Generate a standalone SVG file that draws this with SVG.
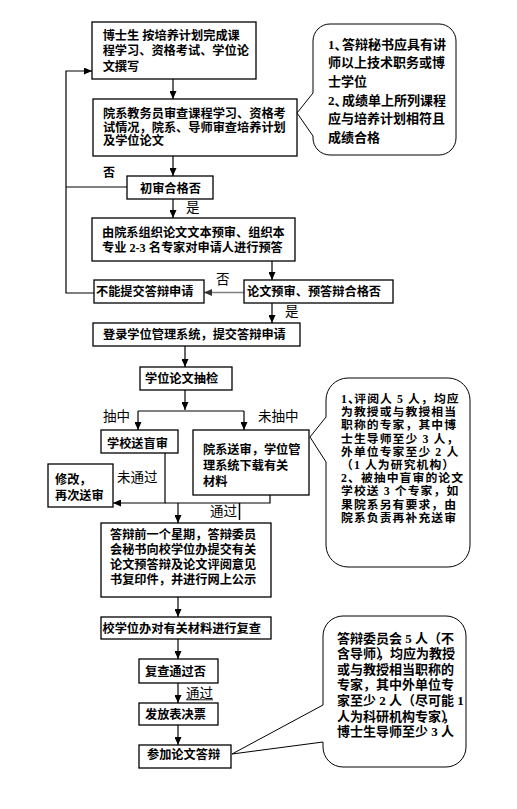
<svg xmlns="http://www.w3.org/2000/svg" width="517" height="809" viewBox="0 0 517 809">
<style>
.box{fill:#fff;stroke:#000;stroke-width:1.3}
.co{fill:#fff;stroke:#000;stroke-width:1}
.t{font-family:"Liberation Serif","Noto Sans CJK SC",serif;font-size:12.2px;font-weight:700;fill:#000}
.c{font-family:"Liberation Serif","Noto Sans CJK SC",serif;font-size:13px;font-weight:700;fill:#000}
.c2{font-family:"Liberation Serif","Noto Sans CJK SC",serif;font-size:11.8px;letter-spacing:1.1px;font-weight:700;fill:#000}
.hp{letter-spacing:-5.5px}
.lbl{font-family:"Noto Sans CJK SC",sans-serif;font-size:13.5px;font-weight:400;fill:#000}
.lb{font-family:"Noto Sans CJK SC",sans-serif;font-size:12px;font-weight:700;fill:#000}
.cn{fill:none;stroke:#000;stroke-width:1.2}
</style>
<defs>
<marker id="arr" viewBox="0 0 10 10" refX="10" refY="5" markerWidth="8" markerHeight="7" markerUnits="userSpaceOnUse" orient="auto" preserveAspectRatio="none"><path d="M0,0 L10,5 L0,10 z" fill="#000"/></marker>
<marker id="arrg" viewBox="0 0 10 10" refX="10" refY="5" markerWidth="8" markerHeight="7" markerUnits="userSpaceOnUse" orient="auto" preserveAspectRatio="none"><path d="M0,0 L10,5 L0,10 z" fill="#333"/></marker>
</defs>
<rect width="517" height="809" fill="#fff"/>

<g id="connectors">
<path class="cn" d="M173,79 V99" marker-end="url(#arr)"/>
<path class="cn" d="M173,156 V176" marker-end="url(#arr)"/>
<path class="cn" d="M127,187 H66"/>
<path class="cn" d="M94,293 H66 V71 H92" marker-end="url(#arr)"/>
<path class="cn" d="M173,199 V218" marker-end="url(#arr)"/>
<path class="cn" d="M272,261 V280" marker-end="url(#arr)"/>
<path d="M244,292.5 H204" fill="none" stroke="#808080" stroke-width="1.6" marker-end="url(#arrg)"/>
<path class="cn" d="M272,303 V323" marker-end="url(#arr)"/>
<path class="cn" d="M185,346 V367" marker-end="url(#arr)"/>
<path class="cn" d="M185,390 V410" marker-end="url(#arr)"/>
<path class="cn" d="M138,411 H244"/>
<path class="cn" d="M138,411 V430" marker-end="url(#arr)"/>
<path class="cn" d="M244,411 V430" marker-end="url(#arr)"/>
<path class="cn" d="M165,453 V503 H113" marker-end="url(#arr)"/>
<path class="cn" d="M270,495 V503 H165"/>
<path class="cn" d="M178,503 V523" marker-end="url(#arr)"/>
<path d="M239.5,503 V520" fill="none" stroke="#000" stroke-width="1.5"/>
<path class="cn" d="M178,597 V617" marker-end="url(#arr)"/>
<path class="cn" d="M178,639 V659" marker-end="url(#arr)"/>
<path class="cn" d="M178,683 V703" marker-end="url(#arr)"/>
<path class="cn" d="M178,725 V745" marker-end="url(#arr)"/>
</g>

<g id="labels">
<text class="lb" x="103" y="176.6">否</text>
<text class="lbl" x="186" y="212">是</text>
<text class="lbl" x="216" y="283.6">否</text>
<text class="lbl" x="285" y="316">是</text>
<text class="lbl" x="103" y="420.8">抽中</text>
<text class="lbl" x="258" y="420.8">未抽中</text>
<text class="lbl" x="117" y="481.5">未通过</text>
<text class="lbl" x="210" y="515.5">通过</text>
<text class="lbl" x="186" y="698">通过</text>
<path d="M186,699.8 H213" stroke="#000" stroke-width="0.9"/>
</g>

<g id="n1">
<rect class="box" x="92" y="22" width="164" height="57"/>
<text class="t" x="102.7" y="39.6">博士生 按培养计划完成课</text>
<text class="t" x="102.7" y="55.1">程学习、资格考试、学位论</text>
<text class="t" x="102.7" y="70.6">文撰写</text>
</g>
<g id="n2">
<rect class="box" x="93" y="99" width="204" height="57"/>
<text class="t" x="103" y="117.8">院系教务员审查课程学习、资格考</text>
<text class="t" x="103" y="131.6">试情况，院系、导师审查培养计划</text>
<text class="t" x="103" y="145.4">及学位论文</text>
</g>
<g id="n3">
<rect class="box" x="127" y="176" width="86" height="23"/>
<text class="t" x="140" y="192.6">初审合格否</text>
</g>
<g id="n4">
<rect class="box" x="92" y="218" width="203" height="43"/>
<text class="t" x="102" y="236.6">由院系组织论文文本预审、组织本</text>
<text class="t" x="102" y="251.6">专业 2-3 名专家对申请人进行预答</text>
</g>
<g id="n5">
<rect class="box" x="244" y="280" width="149" height="23"/>
<text class="t" x="247" y="296.3">论文预审、预答辩合格否</text>
</g>
<g id="n6">
<rect class="box" x="94" y="280" width="110" height="23"/>
<text class="t" x="96" y="296.3">不能提交答辩申请</text>
</g>
<g id="n7">
<rect class="box" x="93" y="323" width="207" height="23"/>
<text class="t" x="103" y="338.6">登录学位管理系统，提交答辩申请</text>
</g>
<g id="n8">
<rect class="box" x="140" y="367" width="92" height="23"/>
<text class="t" x="145" y="383">学位论文抽检</text>
</g>
<g id="n9">
<rect class="box" x="101" y="430" width="77" height="23"/>
<text class="t" x="107" y="448">学校送盲审</text>
</g>
<g id="n10">
<rect class="box" x="193" y="430" width="116" height="65"/>
<text class="t" x="203" y="453.6">院系送审，学位管</text>
<text class="t" x="203" y="469.6">理系统下载有关</text>
<text class="t" x="203" y="485.6">材料</text>
</g>
<g id="n11">
<rect class="box" x="48" y="464" width="65" height="43"/>
<text class="t" x="55" y="483.6">修改，</text>
<text class="t" x="55" y="500.3">再次送审</text>
</g>
<g id="n12">
<rect class="box" x="101" y="523" width="170" height="74"/>
<text class="t" x="110" y="539">答辩前一个星期，答辩委员</text>
<text class="t" x="110" y="554.3">会秘书向校学位办提交有关</text>
<text class="t" x="110" y="569.3">论文预答辩及论文评阅意见</text>
<text class="t" x="110" y="584.3">书复印件，并进行网上公示</text>
</g>
<g id="n13">
<rect class="box" x="101" y="617" width="170" height="22"/>
<text class="t" x="102.5" y="633.2">校学位办对有关材料进行复查</text>
</g>
<g id="n14">
<rect class="box" x="139" y="659" width="79" height="24"/>
<text class="t" x="145" y="676">复查通过否</text>
</g>
<g id="n15">
<rect class="box" x="139" y="703" width="79" height="22"/>
<text class="t" x="145" y="718.6">发放表决票</text>
</g>
<g id="n16">
<rect class="box" x="139" y="745" width="92" height="23"/>
<text class="t" x="147" y="759.3">参加论文答辩</text>
</g>

<g id="callout1">
<path class="co" d="M330,24 H439 A17,17 0 0 1 456,41 V138 A17,17 0 0 1 439,155 H330 A17,17 0 0 1 313,138 V136 L297,113 L313,93 V41 A17,17 0 0 1 330,24 Z"/>
<text class="c" x="328" y="48.5">1<tspan class="hp">、</tspan>答辩秘书应具有讲</text>
<text class="c" x="328" y="67.2">师以上技术职务或博</text>
<text class="c" x="328" y="86">士学位</text>
<text class="c" x="328" y="104.7">2<tspan class="hp">、</tspan>成绩单上所列课程</text>
<text class="c" x="328" y="123.4">应与培养计划相符且</text>
<text class="c" x="328" y="142">成绩合格</text>
</g>

<g id="callout2">
<path class="co" d="M348,378 H448 A22,22 0 0 1 470,400 V545 A22,22 0 0 1 448,567 H348 A22,22 0 0 1 326,545 V462 L310,437 L326,417 V400 A22,22 0 0 1 348,378 Z"/>
<text class="c2" x="341" y="403">1<tspan class="hp">、</tspan>评阅人 5 人，均应</text>
<text class="c2" x="341" y="416.2">为教授或与教授相当</text>
<text class="c2" x="341" y="429.4">职称的专家，其中博</text>
<text class="c2" x="341" y="442.6">士生导师至少 3 人，</text>
<text class="c2" x="341" y="455.8">外单位专家至少 2 人</text>
<text class="c2" x="341" y="469">（1 人为研究机构）</text>
<text class="c2" x="341" y="482.2">2、被抽中盲审的论文</text>
<text class="c2" x="341" y="495.4">学校送 3 个专家，如</text>
<text class="c2" x="341" y="508.6">果院系另有要求，由</text>
<text class="c2" x="341" y="521.8">院系负责再补充送审</text>
</g>

<g id="callout3">
<path class="co" d="M343,616 H446 A20,20 0 0 1 466,636 V747 A20,20 0 0 1 446,767 H343 A20,20 0 0 1 323,747 V742 L232,754 L323,705 V636 A20,20 0 0 1 343,616 Z"/>
<text class="c" x="337" y="642.6">答辩委员会 5 人（不</text>
<text class="c" x="337" y="658.2">含导师<tspan class="hp">）</tspan>，均应为教授</text>
<text class="c" x="337" y="673.8">或与教授相当职称的</text>
<text class="c" x="337" y="689.4">专家，其中外单位专</text>
<text class="c" x="337" y="705">家至少 2 人（尽可能 1</text>
<text class="c" x="337" y="720.6">人为科研机构专家<tspan class="hp">）</tspan>，</text>
<text class="c" x="337" y="736.2">博士生导师至少 3 人</text>
</g>
</svg>
